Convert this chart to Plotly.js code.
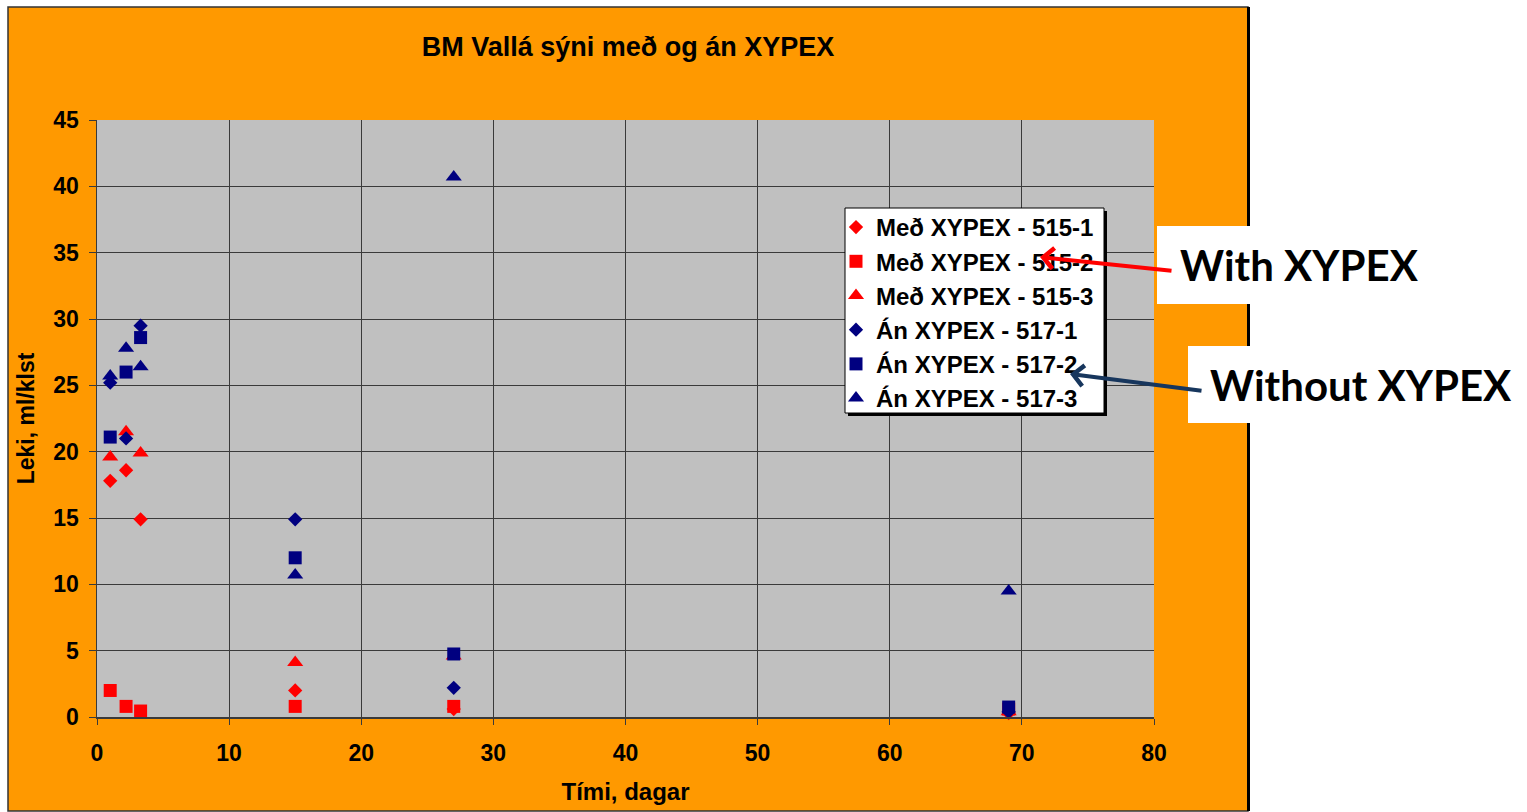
<!DOCTYPE html>
<html>
<head>
<meta charset="utf-8">
<script src="https://cdn.plot.ly/plotly-3.0.1.min.js"></script>
<style>html,body{margin:0;padding:0;background:#fff;}#chart{width:1527px;height:812px;}</style>
</head>
<body>
<div id="chart"></div>
<script>
// Data
const days = [1, 2.2, 3.3, 15, 27, 69];
const seriesNames = [
  "Með XYPEX - 515-1", "Með XYPEX - 515-2", "Með XYPEX - 515-3",
  "Án XYPEX - 517-1", "Án XYPEX - 517-2", "Án XYPEX - 517-3"
];
const med515_1 = [17.8, 18.6, 14.9, 2.0, 0.6, 0.3];
const med515_2 = [2.0, 0.8, 0.45, 0.8, 0.8, 0.6];
const med515_3 = [19.6, 21.5, 19.9, 4.1, 4.6, 0.4];
const an517_1 = [25.2, 21.0, 29.5, 14.9, 2.2, 0.4];
const an517_2 = [21.1, 26.0, 28.6, 12.0, 4.75, 0.75];
const an517_3 = [25.7, 27.8, 26.4, 10.7, 40.7, 9.5];
const xTicks = [0, 10, 20, 30, 40, 50, 60, 70, 80];
const yTicks = [0, 5, 10, 15, 20, 25, 30, 35, 40, 45];

// layout geometry (pixels)
const W = 1527, H = 812;
const L = 97, R = 1154, T = 120, B = 717;
const PX = p => (p - L) / (R - L);
const PY = p => (B - p) / (B - T);

const RED = '#FF0000', NAVY = '#000080';
const font = 'Liberation Sans, Arial, sans-serif';

const values = [med515_1, med515_2, med515_3, an517_1, an517_2, an517_3];
const symbols = ['diamond', 'square', 'triangle-up', 'diamond', 'square', 'triangle-up'];
const sizes = [11, 13, 14, 11, 13, 14];
const colors = [RED, RED, RED, NAVY, NAVY, NAVY];

const traces = values.map((v, i) => ({
  type: 'scatter', mode: 'markers', x: days, y: v, name: seriesNames[i],
  cliponaxis: false,
  marker: {symbol: symbols[i], size: sizes[i], color: colors[i], line: {width: 0}}
}));

const rect = (x0, y0, x1, y1, fill, line, layer) => ({
  type: 'rect', xref: 'paper', yref: 'paper',
  x0: PX(x0), x1: PX(x1), y0: PY(y1), y1: PY(y0),
  fillcolor: fill, line: line || {width: 0}, layer: layer || 'below'
});

const shapes = [
  rect(8, 7, 1248, 811, '#FF9900', {color: '#333', width: 1.5}),
  {type: 'line', xref: 'paper', yref: 'paper', x0: PX(1248.5), x1: PX(1248.5), y0: PY(811), y1: PY(7), line: {color: '#000', width: 3}, layer: 'below'},
  rect(L, T, R, B, '#C0C0C0'),
  rect(1157, 226, 1530, 304, '#FFFFFF'),
  rect(1188, 346, 1530, 423, '#FFFFFF'),
  rect(848, 211, 1107, 416, '#000000', null, 'above'),
  rect(845, 208, 1104, 413, '#FFFFFF', {color: '#000', width: 1}, 'above')
];

const annotations = [
  {xref: 'paper', yref: 'paper', x: PX(1040), y: PY(257), text: '', showarrow: true,
   ax: 133, ay: 14, arrowhead: 4, arrowsize: 1, arrowwidth: 4, arrowcolor: '#FF0000'},
  {xref: 'paper', yref: 'paper', x: PX(1070), y: PY(374), text: '', showarrow: true,
   ax: 133, ay: 17, arrowhead: 4, arrowsize: 1, arrowwidth: 4, arrowcolor: '#17365D'},
  {xref: 'paper', yref: 'paper', x: PX(1178), y: PY(265), xanchor: 'left', yanchor: 'middle',
   text: '<b>With XYPEX</b>', showarrow: false, font: {family: 'Lato', size: 42, color: '#000'}},
  {xref: 'paper', yref: 'paper', x: PX(1208), y: PY(385), xanchor: 'left', yanchor: 'middle',
   text: '<b>Without XYPEX</b>', showarrow: false, font: {family: 'Lato', size: 42, color: '#000'}}
];

const layout = {
  width: W, height: H,
  margin: {l: L, r: W - R, t: T, b: H - B, pad: 0},
  paper_bgcolor: '#FFFFFF', plot_bgcolor: 'rgba(0,0,0,0)',
  showlegend: true,
  title: {text: '<b>BM Vallá sýni með og án XYPEX</b>', x: 628 / W, xanchor: 'center',
          y: 1 - 47 / H, yanchor: 'middle', font: {family: font, size: 27, color: '#000'}},
  xaxis: {
    range: [0, 80], tickvals: xTicks, ticktext: xTicks.map(String),
    showgrid: true, gridcolor: '#3a3a3a', gridwidth: 1, zeroline: false,
    showline: true, linecolor: '#3a3a3a', linewidth: 1.5,
    ticks: 'outside', ticklen: 6, tickcolor: '#3a3a3a', ticklabelstandoff: 9,
    tickfont: {family: font, size: 23, color: '#000', weight: 'bold'},
    title: {text: '<b>Tími, dagar</b>', font: {family: font, size: 24, color: '#000'}, standoff: 18}
  },
  yaxis: {
    range: [0, 45], tickvals: yTicks, ticktext: yTicks.map(String),
    showgrid: true, gridcolor: '#3a3a3a', gridwidth: 1, zeroline: false,
    showline: true, linecolor: '#3a3a3a', linewidth: 1.5,
    ticks: 'outside', ticklen: 7, tickcolor: '#3a3a3a', ticklabelstandoff: 5,
    tickfont: {family: font, size: 23, color: '#000', weight: 'bold'},
    title: {text: '<b>Leki, ml/klst</b>', font: {family: font, size: 23, color: '#000'}, standoff: 12}
  },
  legend: {
    x: PX(836), y: PY(205), xanchor: 'left', yanchor: 'top',
    bgcolor: 'rgba(0,0,0,0)', borderwidth: 0,
    font: {family: font, size: 24, color: '#000', weight: 'bold'},
    itemwidth: 30, traceorder: 'normal'
  },
  shapes: shapes,
  annotations: annotations
};

Plotly.newPlot('chart', traces, layout, {displayModeBar: false, staticPlot: true});
</script>
</body>
</html>
